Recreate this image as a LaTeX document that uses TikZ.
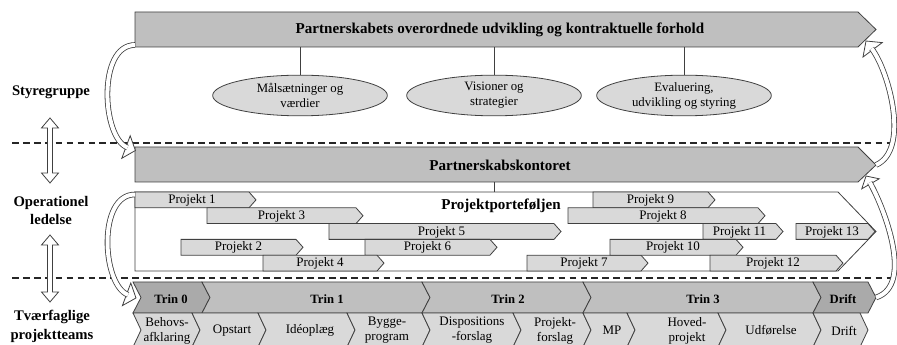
\documentclass[tikz,border=0pt]{standalone}
\usepackage{fontspec}
\setmainfont{Liberation Serif}
\usetikzlibrary{shapes.geometric}

\definecolor{bannergray}{RGB}{191,191,191}
\definecolor{trindark}{RGB}{170,170,170}
\definecolor{boxlight}{RGB}{217,217,217}
\definecolor{edge}{RGB}{64,64,64}

\tikzset{
  outline/.style={draw=edge, line width=0.6pt, line join=miter},
  banner/.style={outline, fill=bannergray},
  projbox/.style={outline, fill=boxlight},
  goal/.style={ellipse, outline, fill=boxlight, minimum width=131pt, minimum height=30.5pt,
    inner sep=0pt, align=center, font=\fontsize{9.6}{11.2}\selectfont},
  titletext/.style={inner sep=0pt, font=\bfseries\fontsize{11.3}{13}\selectfont},
  sidetext/.style={inner sep=0pt, align=center, font=\bfseries\fontsize{11}{14.2}\selectfont},
  trintext/.style={inner sep=0pt, font=\bfseries\fontsize{9.5}{11}\selectfont},
  plaintext/.style={inner sep=0pt, align=center, font=\fontsize{9.75}{11.2}\selectfont},
  dashline/.style={draw=black!85, line width=0.9pt, dash pattern=on 5pt off 3.2pt},
  hollow/.style={draw=edge, line width=0.6pt, double=white, double distance=3pt},
  hollowhead/.style={outline, fill=white}
}

\begin{document}
\begin{tikzpicture}[x=0.75pt,y=0.75pt,yscale=-1,xscale=1]
\useasboundingbox (0,0) rectangle (897,345);

%Dashed separators
\draw[dashline] (12,143) -- (893,143);
\draw[dashline] (12,278) -- (893,278);

%Shape: top banner
\draw[banner] (135,12) -- (858,12) -- (876,29.5) -- (858,47) -- (135,47) -- cycle;
\coordinate (top-w) at (135,45);
\coordinate (top-tip) at (866,41);
\node[titletext] (toptitle) at (500,30) {Partnerskabets overordnede udvikling og kontraktuelle forhold};

%Shape: office banner
\draw[banner] (135,147) -- (858,147) -- (876,165) -- (858,182) -- (135,182) -- cycle;
\coordinate (office-tip) at (876,165);
\coordinate (office-head) at (866,176);
\coordinate (office-s) at (494,182);
\node[titletext] (office) at (500,165) {Partnerskabskontoret};

%Ellipses
\node[goal] (goal1) at (300,95.5) {Målsætninger og\\værdier};
\node[goal] (goal2) at (494,95.5) {Visioner og\\strategier};
\node[goal] (goal3) at (684,95.5) {Evaluering,\\udvikling og styring};
\coordinate (top-s) at (135,47);
\foreach \g in {goal1,goal2,goal3}
  \draw[outline] (\g.north) -- (\g.north |- top-s);

%Shape: portfolio
\draw[outline, fill=white] (135,192) -- (838,192) -- (876,231.5) -- (838,271) -- (135,271) -- cycle;
\coordinate (port-n) at (494,192);
\coordinate (port-w) at (135,194.5);
\draw[outline] (office-s) -- (port-n);
\node[titletext] (portfolio) at (501,206) {Projektporteføljen};

%Projects: start / tip / row / number
\foreach \s/\t/\r/\n in {135/256/1/1, 207/363/2/3, 329/561/3/5, 181/303/4/2, 365/497/4/6,
    263/384/5/4, 527/648/5/7, 593/715/1/9, 568/765/2/8, 703/783/3/11, 796/875/3/13,
    610/743/4/10, 710/843/5/12}{
  \pgfmathsetmacro{\yt}{192+(\r-1)*15.8}
  \pgfmathsetmacro{\yb}{\yt+15.8}
  \pgfmathsetmacro{\ym}{\yt+7.9}
  \draw[projbox] (\s,\yt) -- (\t-7,\yt) -- (\t,\ym) -- (\t-7,\yb) -- (\s,\yb) -- cycle;
  \node[plaintext] (proj\n) at ({(\s+\t-7)/2},\ym+0.5) {Projekt \n};
}

%Phases
\foreach \l/\b/\c/\n/\txt/\x in {133/202/trindark/0/Trin 0/171, 202/422/bannergray/1/Trin 1/327,
    422/583/bannergray/2/Trin 2/508, 583/813/bannergray/3/Trin 3/703, 813/868/trindark/4/Drift/843}{
  \draw[outline, fill=\c] (\l,282) -- (\b,282) -- (\b+8,297.5) -- (\b,313) -- (\l,313) -- (\l+8,297.5) -- cycle;
  \node[trintext] (trin\n) at (\x,299) {\txt};
}
\coordinate (trin-w) at (136,298);
\coordinate (drift-tip) at (876,297.5);

%Steps
\foreach \l/\b/\n/\txt/\x in {133/192/1/{Behovs-\\afklaring}/167, 192/258/2/Opstart/232,
    258/347/3/Idéoplæg/310, 347/422/4/{Bygge-\\program}/387, 422/513/5/{Dispositions\\-forslag}/472,
    513/583/6/{Projekt-\\forslag}/555, 583/627/7/MP/612, 627/718/8/{Hoved-\\projekt}/687,
    718/813/9/Udførelse/771, 813/860/10/Drift/844}{
  \draw[projbox] (\l,313) -- (\b,313) -- (\b+8,330) -- (\b,347) -- (\l,347) -- (\l+8,330) -- cycle;
  \node[plaintext] (step\n) at (\x,330.5) {\txt};
}

%Curved hollow arrows
\draw[hollowhead] (135.4,150.5) -- (130.2,135.7) -- (121.8,158.3) -- cycle;
\draw[hollow] (top-w) .. controls (97,45) and (102,138) .. (127.4,147.5);

\draw[hollowhead] (trin-w) -- (130.8,283) -- (122.4,305.6) -- cycle;
\draw[hollow] (port-w) .. controls (97,194.5) and (102,285) .. (128,294.8);

\draw[hollowhead] (top-tip) -- (882.2,42.6) -- (863,57) -- cycle;
\draw[hollow] (office-tip) .. controls (910,150) and (889.4,72.2) .. (871.7,48.6);

\draw[hollowhead] (office-head) -- (879.2,178.8) -- (861.8,188.8) -- cycle;
\draw[hollow] (drift-tip) .. controls (915,285) and (883,205.6) .. (869.8,182.5);

%Double arrows
\draw[hollowhead] (50,118) -- (58.5,128) -- (52.5,128) -- (52.5,173) -- (58.5,173) -- (50,183)
  -- (41.5,173) -- (47.5,173) -- (47.5,128) -- (41.5,128) -- cycle;
\draw[hollowhead] (50,235) -- (58.5,245) -- (52.5,245) -- (52.5,292) -- (58.5,292) -- (50,302)
  -- (41.5,292) -- (47.5,292) -- (47.5,245) -- (41.5,245) -- cycle;

% Text Node
\node[sidetext] (steer) at (51,92) {Styregruppe};
\node[sidetext] (oper) at (51,210.5) {Operationel\\ledelse};
\node[sidetext] (teams) at (52,326.5) {Tværfaglige\\projektteams};

\end{tikzpicture}
\end{document}
